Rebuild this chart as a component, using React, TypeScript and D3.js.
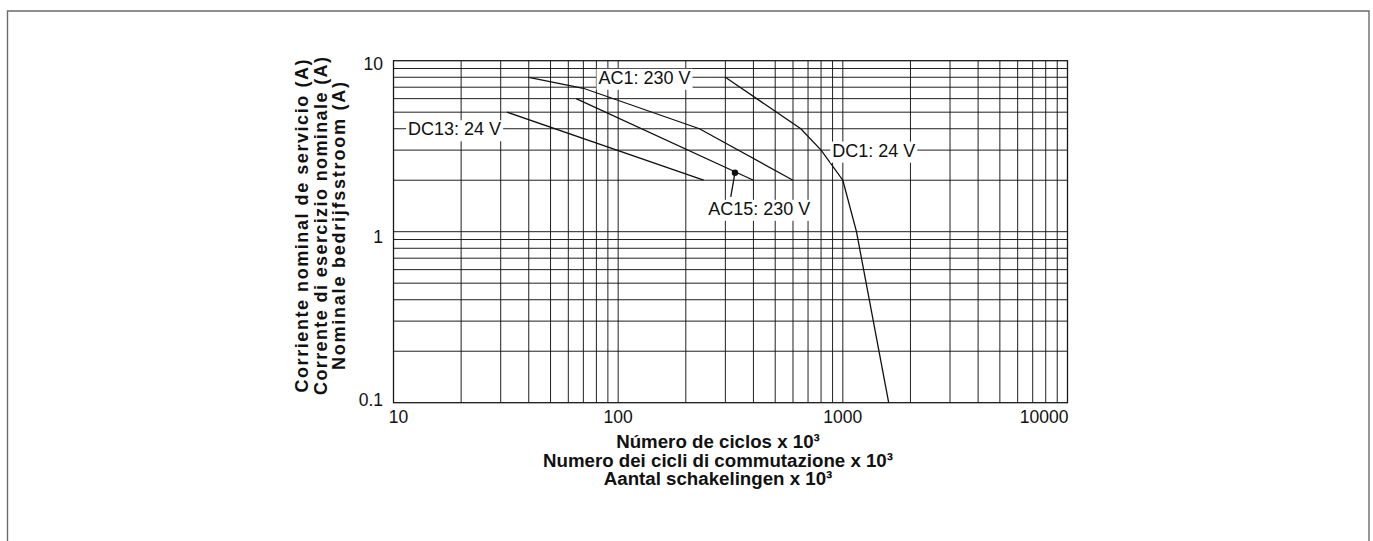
import { useEffect, useRef } from "react";
import * as d3 from "d3";

const width = 1373,
  height = 541;
const plot = { left: 393.5, right: 1067.5, top: 60.7, bottom: 402.7 };
const font = "'Liberation Sans', Arial, Helvetica, sans-serif";

// curves: cycles (x 10^3) vs. rated current (A)
const ac1Cycles = [40, 70, 230, 600];
const ac1Current = [8, 6.9, 4, 2];
const ac15Cycles = [65, 400];
const ac15Current = [6, 2];
const dc13Cycles = [32, 240];
const dc13Current = [5, 2];
const dc1Cycles = [300, 650, 800, 1000, 1150, 1600];
const dc1Current = [8, 4, 3, 2, 1, 0.1];

// marker + leader for the AC15 label
const markerPoint = [331, 2.21];
const leaderEnd = [317, 1.6];

const labelText = ["AC1: 230 V", "DC13: 24 V", "DC1: 24 V", "AC15: 230 V"];
const labelCycles = [131, 18.7, 1373, 425];
const labelCurrent = [8, 4, 3, 1.37];

const xTicks = [10, 100, 1000, 10000];
const xTickLabels = ["10", "100", "1000", "10000"];
const yTicks = [10, 1, 0.1];
const yTickLabels = ["10", "1", "0.1"];

const yTitle = [
  "Corriente nominal de servicio (A)",
  "Corrente di esercizio nominale (A)",
  "Nominale bedrijfsstroom (A)",
];
const yTitleLength = [333, 338, 288];
const xTitle = [
  "Número de ciclos x 10³",
  "Numero dei cicli di commutazione x 10³",
  "Aantal schakelingen x 10³",
];

export default function App() {
  const ref = useRef<SVGSVGElement>(null);

  useEffect(() => {
    const svg = d3.select(ref.current);
    svg.selectAll("*").remove();

    const x = d3.scaleLog().domain([10, 10000]).range([plot.left, plot.right]);
    const y = d3.scaleLog().domain([0.1, 10]).range([plot.bottom, plot.top]);

    // outer frame, open at the bottom
    svg
      .append("path")
      .attr("d", `M7.5,${height} V11 H1369 V${height}`)
      .attr("fill", "none")
      .attr("stroke", "#6b6b6b")
      .attr("stroke-width", 1.4);

    // grid
    const xGrid: number[] = [];
    [10, 100, 1000].forEach((dec) => d3.range(2, 10).forEach((k) => xGrid.push(k * dec)));
    xGrid.push(100, 1000);
    const yGrid: number[] = [];
    [0.1, 1].forEach((dec) => d3.range(2, 10).forEach((k) => yGrid.push(+(k * dec).toFixed(2))));
    yGrid.push(1);

    const grid = svg.append("g").attr("stroke", "#151515").attr("stroke-width", 0.95);
    xGrid.forEach((d) => {
      grid
        .append("line")
        .attr("x1", x(d))
        .attr("x2", x(d))
        .attr("y1", plot.top)
        .attr("y2", plot.bottom);
    });
    yGrid.forEach((d) => {
      grid
        .append("line")
        .attr("x1", plot.left)
        .attr("x2", plot.right)
        .attr("y1", y(d))
        .attr("y2", y(d));
    });

    svg
      .append("rect")
      .attr("x", plot.left)
      .attr("y", plot.top)
      .attr("width", plot.right - plot.left)
      .attr("height", plot.bottom - plot.top)
      .attr("fill", "none")
      .attr("stroke", "#1a1a1a")
      .attr("stroke-width", 1.3);

    // curves
    const curves = [
      [ac1Cycles, ac1Current],
      [ac15Cycles, ac15Current],
      [dc13Cycles, dc13Current],
      [dc1Cycles, dc1Current],
    ];
    curves.forEach(([cx, cy]) => {
      const pts = cx.map((c, i) => [x(c), y(cy[i])] as [number, number]);
      svg
        .append("path")
        .attr("d", d3.line()(pts) as string)
        .attr("fill", "none")
        .attr("stroke", "#111")
        .attr("stroke-width", 1.3);
    });

    // curve labels with white boxes
    labelText.forEach((t, i) => {
      const cx = x(labelCycles[i]);
      const base = y(labelCurrent[i]) + 6.5;
      const g = svg.append("g");
      const rect = g.append("rect").attr("fill", "#fff");
      const txt = g
        .append("text")
        .attr("x", cx)
        .attr("y", base)
        .attr("text-anchor", "middle")
        .attr("font-family", font)
        .attr("font-size", 18)
        .attr("fill", "#111")
        .text(t);
      const bb = (txt.node() as SVGTextElement).getBBox();
      rect
        .attr("x", bb.x - 2)
        .attr("y", base - 15)
        .attr("width", bb.width + 4)
        .attr("height", 21);
    });

    // AC15 marker and leader
    svg
      .append("line")
      .attr("x1", x(markerPoint[0]))
      .attr("y1", y(markerPoint[1]))
      .attr("x2", x(leaderEnd[0]))
      .attr("y2", y(leaderEnd[1]))
      .attr("stroke", "#111")
      .attr("stroke-width", 1.3);
    svg
      .append("circle")
      .attr("cx", x(markerPoint[0]))
      .attr("cy", y(markerPoint[1]))
      .attr("r", 3.2)
      .attr("fill", "#111");

    // tick labels
    xTicks.forEach((d, i) => {
      const last = i === xTicks.length - 1;
      svg
        .append("text")
        .attr("x", x(d) + (i === 0 ? 5 : last ? 1 : 0))
        .attr("y", 423)
        .attr("text-anchor", last ? "end" : "middle")
        .attr("font-family", font)
        .attr("font-size", 17.5)
        .attr("fill", "#111")
        .text(xTickLabels[i]);
    });
    const yOffsets = [3, 5.5, -2.5];
    yTicks.forEach((d, i) => {
      svg
        .append("text")
        .attr("x", 383)
        .attr("y", y(d) + yOffsets[i] + 6.2)
        .attr("text-anchor", "end")
        .attr("font-family", font)
        .attr("font-size", 17.5)
        .attr("fill", "#111")
        .text(yTickLabels[i]);
    });

    // axis titles
    const yBase = [308.3, 326.7, 345];
    yTitle.forEach((t, i) => {
      svg
        .append("text")
        .attr("transform", `translate(${yBase[i]}, 226) rotate(-90)`)
        .attr("text-anchor", "middle")
        .attr("font-family", font)
        .attr("font-weight", "bold")
        .attr("font-size", 18)
        .attr("textLength", yTitleLength[i])
        .attr("lengthAdjust", "spacing")
        .attr("fill", "#111")
        .text(t);
    });
    const xBase = [448.3, 466.7, 485];
    xTitle.forEach((t, i) => {
      svg
        .append("text")
        .attr("x", 718)
        .attr("y", xBase[i])
        .attr("text-anchor", "middle")
        .attr("font-family", font)
        .attr("font-weight", "bold")
        .attr("font-size", 18.7)
        .attr("fill", "#111")
        .text(t);
    });
  }, []);

  return (
    <svg
      ref={ref}
      width={width}
      height={height}
      style={{ position: "absolute", left: 0, top: 0, background: "#fff" }}
    />
  );
}
